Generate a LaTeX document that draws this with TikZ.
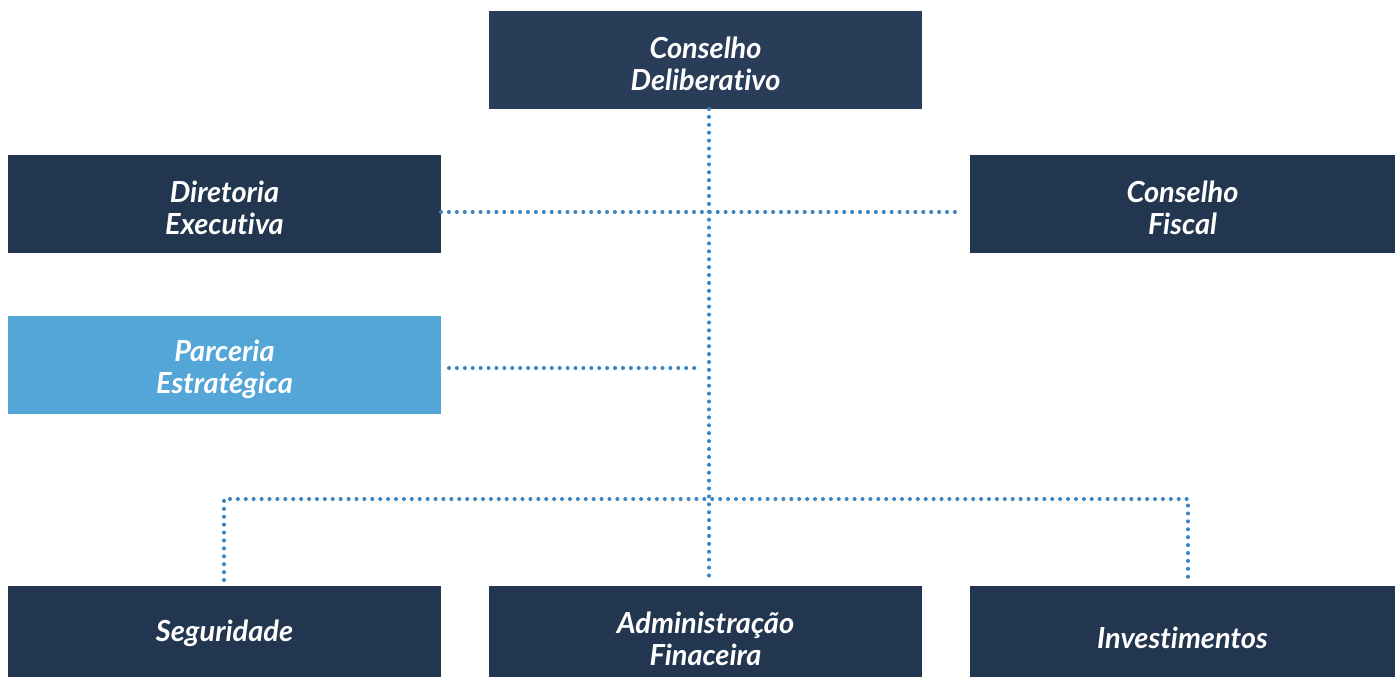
\documentclass[tikz,border=0pt]{standalone}
\usepackage{fontspec}
\setmainfont[Ligatures=NoCommon]{Lato}
\definecolor{boxtop}{HTML}{293C58}
\definecolor{boxdark}{HTML}{22364F}
\definecolor{boxlight}{HTML}{54A5D8}
\definecolor{dotc}{HTML}{3A85C2}
\begin{document}
\begin{tikzpicture}[x=0.02cm,y=-0.02cm,
  orgbox/.style={fill=boxdark,draw=none,inner sep=0pt,minimum width=433*0.02cm,minimum height=98*0.02cm},
  orgtext/.style={inner sep=0pt,text=white,align=center,
    font=\fontsize{16.5}{18.2}\selectfont\bfseries\itshape},
  dotline/.style={draw=dotc,line width=2.3pt,line cap=round,dash pattern=on 0pt off 4.5pt}]
\useasboundingbox (0,0) rectangle (1395,677);
\node[orgbox,fill=boxtop] (cd) at (705.5,60) {};
\node[orgbox] (de) at (224.5,204) {};
\node[orgbox,minimum width=425*0.02cm] (cf) at (1182.5,204) {};
\node[orgbox,fill=boxlight] (pe) at (224.5,365) {};
\node[orgbox,minimum height=91*0.02cm] (se) at (224.5,631.5) {};
\node[orgbox,minimum height=91*0.02cm] (af) at (705.5,631.5) {};
\node[orgbox,minimum width=425*0.02cm,minimum height=91*0.02cm] (in) at (1182.5,631.5) {};
\node[orgtext] (cdt) at ([yshift=-0.08cm]cd.center) {Conselho\\Deliberativo};
\node[orgtext] (det) at ([yshift=-0.08cm]de.center) {Diretoria\\Executiva};
\node[orgtext] (cft) at ([yshift=-0.08cm]cf.center) {Conselho\\Fiscal};
\node[orgtext] (pet) at ([yshift=-0.08cm]pe.center) {Parceria\\Estratégica};
\node[orgtext] (set) at ([yshift=-0.04cm]se.center) {Seguridade};
\node[orgtext] (aft) at ([yshift=-0.14cm]af.center) {Administração\\Finaceira};
\node[orgtext] (int) at ([yshift=-0.12cm]in.center) {Investimentos};
\coordinate (vt) at (709,109);
\coordinate (vb) at (709,580);
\coordinate (hl) at (441,212);
\coordinate (hr) at (958,212);
\coordinate (pl) at (449,368);
\coordinate (pr) at (697,368);
\coordinate (bl) at (224,499);
\coordinate (br) at (1188,499);
\coordinate (bld) at (224,580);
\coordinate (brd) at (1188,580);
\draw[dotline] (vt) -- (vb);
\draw[dotline] (hl) -- (hr);
\draw[dotline] (pl) -- (pr);
\draw[dotline] (bld) -- (bl) -- (br) -- (brd);
\end{tikzpicture}
\end{document}
